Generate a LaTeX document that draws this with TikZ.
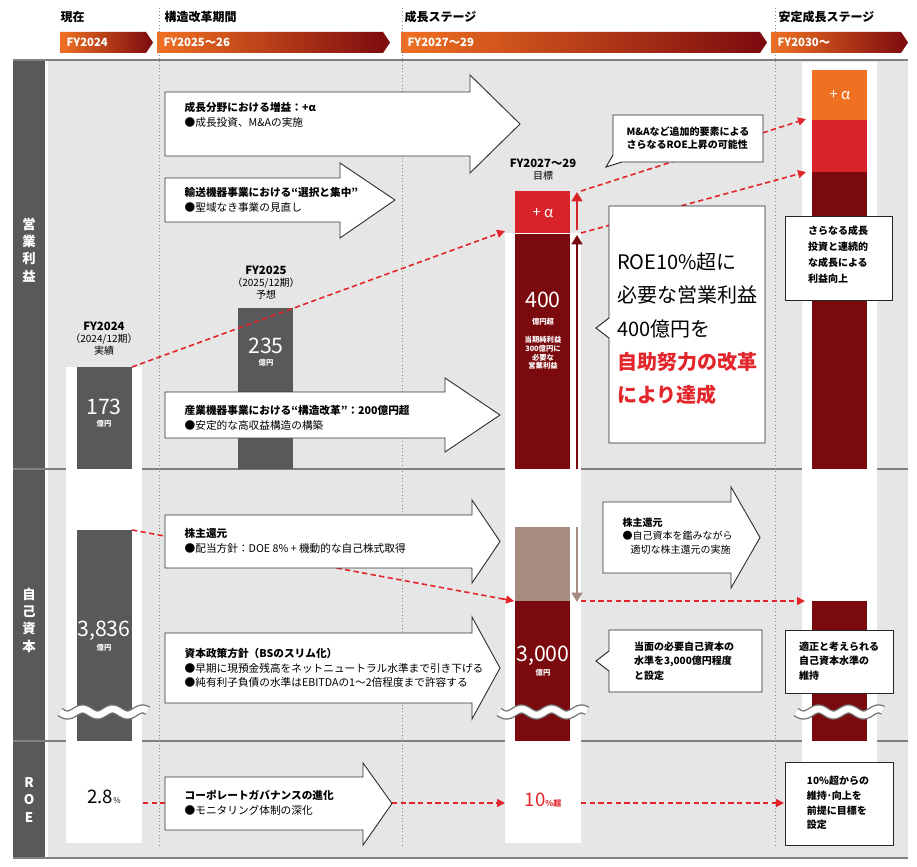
\documentclass[tikz,border=0pt]{standalone}
\usepackage{fontspec}
\setmainfont{Noto Sans CJK JP}
\usetikzlibrary{arrows.meta}
\definecolor{panelgray}{HTML}{58595B}
\definecolor{bggray}{HTML}{E6E6E7}
\definecolor{darkred}{HTML}{7B0A0E}
\definecolor{midred}{HTML}{D9232B}
\definecolor{brightred}{HTML}{EC1C2A}
\definecolor{orng}{HTML}{F07022}
\definecolor{brwn}{HTML}{A68B80}
\definecolor{dashred}{HTML}{E3262B}
\tikzset{
  bigarrow/.style={draw=black!80, fill=white, line width=0.7pt},
  note/.style={draw=black!85, fill=white, line width=0.7pt},
  reddash/.style={dashred, line width=1.2pt, dash pattern=on 4pt off 2.5pt},
  redtip/.style={reddash, -{Triangle[length=6pt,width=6pt]}},
  txt/.style={font=\fontsize{8}{11}\selectfont, align=left, anchor=west},
  bartxt/.style={text=white, font=\fontsize{16}{16}\selectfont},
  small/.style={text=white, font=\bfseries\fontsize{5.5}{6.5}\selectfont, align=center},
  head/.style={font=\bfseries\fontsize{9}{10}\selectfont, anchor=west},
  ribtxt/.style={text=white, font=\bfseries\fontsize{8.5}{10}\selectfont, anchor=west},
  sidetxt/.style={text=white, font=\bfseries\fontsize{10}{13}\selectfont, align=center},
  dots/.style={black!45, line width=0.5pt, dotted}
}
\newcommand\fatarrow[7]{% left, neck, tip, body top, body bottom, head top, head bottom
  \draw[bigarrow] (#1,#4) -- (#2,#4) -- (#2,#6) -- (#3,{(#4+#5)/2}) -- (#2,#7) -- (#2,#5) -- (#1,#5) -- cycle;}
\newcommand\wavebreak[2]{% from x to x
  \draw[black!55, line width=7pt] plot[domain=#1:#2, samples=50] (\x,{712+3*sin((\x-#1)*12)});
  \draw[white, line width=5pt] plot[domain=#1:#2, samples=50] (\x,{712+3*sin((\x-#1)*12)});}
\begin{document}
\begin{tikzpicture}[x=0.75pt,y=-0.75pt]
\useasboundingbox (0,0) rectangle (917,867);
\fill[white] (0,0) rectangle (917,867);

% header
\node[head] (h1) at (56,17) {現在};
\node[head] (h2) at (160,17) {構造改革期間};
\node[head] (h3) at (400,17) {成長ステージ};
\node[head] (h4) at (774,17) {安定成長ステージ};
\foreach \a/\b/\lab in {60/153/FY2024, 157/390/FY2025〜26, 401/767/FY2027〜29, 771/908/FY2030〜}{
  \shade[left color=orng, middle color=brightred, right color=darkred]
    (\a,32) -- ({\b-7},32) -- (\b,42.5) -- ({\b-7},53) -- (\a,53) -- cycle;
  \node[ribtxt] at ({\a+2},42.5) {\lab};
}

% panels
\fill[panelgray] (13,60) rectangle (45,858);
\fill[bggray] (48,60) rectangle (908,858);
\draw[black!50, line width=0.8pt] (13,60) -- (908,60);
\draw[black!50, line width=0.8pt] (13,469) -- (908,469);
\draw[black!50, line width=0.8pt] (13,741) -- (908,741);
\draw[black!50, line width=0.8pt] (13,858) -- (908,858);
\node[sidetxt] (s1) at (29,250) {営\\業\\利\\益};
\node[sidetxt] (s2) at (29,620) {自\\己\\資\\本};
\node[sidetxt] (s3) at (29,800) {R\\O\\E};

% white columns
\fill[white] (66,367) rectangle (142,843);
\fill[white] (505,233) rectangle (581,843);
\fill[white] (802,62) rectangle (877,843);
\foreach \x in {159,402,775}
  \draw[dots] (\x,8) -- (\x,845);

% bars
\fill[panelgray] (77,367) rectangle (132,469);
\fill[panelgray] (238,308) rectangle (293,469);
\fill[midred] (515,191) rectangle (570,233);
\fill[darkred] (515,234) rectangle (570,469);
\fill[orng] (812,70) rectangle (867,120);
\fill[midred] (812,120) rectangle (867,172);
\fill[darkred] (812,172) rectangle (867,469);
\fill[panelgray] (77,530) rectangle (132,741);
\fill[brwn] (515,527) rectangle (570,601);
\fill[darkred] (515,601) rectangle (570,741);
\fill[darkred] (812,601) rectangle (867,741);
\coordinate (b24) at (132,367);
\coordinate (b27) at (505,231);
\coordinate (b27a) at (581,233);
\coordinate (b27b) at (581,191);
\coordinate (b30a) at (806,172);
\coordinate (b30b) at (806,119);
\coordinate (e24) at (132,530);
\coordinate (e27) at (514,601);
\coordinate (e27r) at (581,601);
\coordinate (e30) at (805,601);

\draw[darkred, line width=2.2pt, -{Triangle[length=7pt,width=8pt]}] (577,469) -- (577,235);
\draw[midred, line width=2.2pt, -{Triangle[length=7pt,width=8pt]}] (577,230) -- (577,192);
\draw[brwn, line width=2.2pt, -{Triangle[length=7pt,width=8pt]}] (577,527) -- (577,602);

\wavebreak{60}{148}
\wavebreak{499}{587}
\wavebreak{796}{883}

% bar labels
\node[font=\bfseries\fontsize{8.5}{10}\selectfont, align=center] (l24) at (104,339) {FY2024\\[-1pt]{\mdseries\fontsize{7.5}{9}\selectfont（2024/12期）}\\[-1pt]{\mdseries\fontsize{7.5}{9}\selectfont 実績}};
\node[font=\bfseries\fontsize{8.5}{10}\selectfont, align=center] (l25) at (266,283) {FY2025\\[-1pt]{\mdseries\fontsize{7.5}{9}\selectfont（2025/12期）}\\[-1pt]{\mdseries\fontsize{7.5}{9}\selectfont 予想}};
\node[font=\bfseries\fontsize{8.5}{10}\selectfont, align=center] (l27) at (543,170) {FY2027〜29\\[-1pt]{\mdseries\fontsize{7.5}{9}\selectfont 目標}};
\node[bartxt] (v173) at (104,407) {173};
\node[small] at (104,424) {億円};
\node[bartxt] (v235) at (266,346) {235};
\node[small] at (266,363) {億円};
\node[bartxt] (v400) at (543,300) {400};
\node[small, anchor=north] at (543,314) {億円超\\[7pt]当期純利益\\300億円に\\必要な\\営業利益};
\node[text=white, font=\fontsize{11}{12}\selectfont] at (543,213) {+ \textit{α}};
\node[text=white, font=\fontsize{11}{12}\selectfont] at (840,95) {+ \textit{α}};
\node[bartxt] (v3836) at (104,631) {3,836};
\node[small] at (104,648) {億円};
\node[bartxt] (v3000) at (543,656) {3,000};
\node[small] at (543,673) {億円};
\node[font=\fontsize{14}{14}\selectfont] (r24) at (104,797) {2.8{\fontsize{6}{6}\selectfont\%}};
\node[text=dashred, font=\fontsize{14}{14}\selectfont] (r27) at (543,800) {10{\fontsize{6}{6}\selectfont\bfseries\%超}};

% dashed links
\draw[redtip] (b24) -- (b27);
\draw[redtip] (b27a) -- (b30a);
\draw[redtip] (b27b) -- (b30b);
\draw[reddash] (e24) -- (e27);
\draw[redtip] (e27) ++(-12,-2.3) -- (e27);
\draw[redtip] (e27r) -- (e30);
\coordinate (rr1) at (143,803);
\coordinate (rr2) at (165,803);
\coordinate (rr3) at (392,803);
\coordinate (rr4) at (505,803);
\coordinate (rr5) at (581,803);
\coordinate (rr6) at (784,803);
\draw[reddash] (rr1) -- (rr2);
\draw[redtip] (rr3) -- (rr4);
\draw[redtip] (rr5) -- (rr6);

% big arrows
\fatarrow{165}{470}{520}{92}{156}{75}{173}
\node[txt] (a1) at (180,115) {\textbf{成長分野における増益：+\textit{α}}\\●成長投資、M\&Aの実施};
\fatarrow{165}{340}{395}{178}{222}{163}{238}
\node[txt] (a2) at (180,200) {\textbf{輸送機器事業における“選択と集中”}\\●聖域なき事業の見直し};
\fatarrow{165}{445}{500}{392}{438}{378}{452}
\node[txt] (a3) at (180,418) {\textbf{産業機器事業における“構造改革”：200億円超}\\●安定的な高収益構造の構築};
\fatarrow{165}{472}{500}{515}{568}{500}{583}
\node[txt] (a4) at (180,541) {\textbf{株主還元}\\●配当方針：DOE 8\% + 機動的な自己株式取得};
\fatarrow{165}{472}{500}{633}{703}{617}{719}
\node[txt] (a5) at (180,668) {\textbf{資本政策方針（BSのスリム化）}\\●早期に現預金残高をネットニュートラル水準まで引き下げる\\●純有利子負債の水準はEBITDAの1〜2倍程度まで許容する};
\fatarrow{165}{363}{392}{777}{830}{763}{845}
\node[txt] (a6) at (180,803) {\textbf{コーポレートガバナンスの進化}\\●モニタリング体制の深化};
\fatarrow{603}{731}{760}{502}{573}{487}{588}
\node[txt, font=\fontsize{7.5}{10}\selectfont] (a7) at (618,536) {\textbf{株主還元}\\●自己資本を鑑みながら\\\hspace{0.8em}適切な株主還元の実施};

% notes
\draw[note] (613,115) -- (763,115) -- (763,162) -- (622,162) -- (606,167) -- (613,155) -- cycle;
\node[font=\bfseries\fontsize{7.5}{10}\selectfont, align=left] (n1) at (688,138) {M\&Aなど追加的要素による\\さらなるROE上昇の可能性};
\draw[note] (609,206) -- (765,206) -- (765,443) -- (609,443) -- (609,338) -- (596,328) -- (609,318) -- cycle;
\node[font=\fontsize{15}{25}\selectfont, align=left] (n2) at (687,329) {ROE10\%超に\\必要な営業利益\\400億円を\\\textcolor{dashred}{\textbf{自助努力の改革}}\\\textcolor{dashred}{\textbf{により達成}}};
\draw[note] (785,216) rectangle (892,300);
\node[font=\bfseries\fontsize{7.5}{12}\selectfont, align=left] (n3) at (838,255) {さらなる成長\\投資と連続的\\な成長による\\利益向上};
\draw[note] (609,630) -- (762,630) -- (762,692) -- (609,692) -- (609,671) -- (596,661) -- (609,651) -- cycle;
\node[font=\bfseries\fontsize{7.5}{11}\selectfont, align=left] (n4) at (684,661) {当面の必要自己資本の\\水準を3,000億円程度\\と設定};
\draw[note] (785,630) rectangle (893,693);
\node[font=\bfseries\fontsize{7.5}{11}\selectfont, align=left] (n5) at (839,661) {適正と考えられる\\自己資本水準の\\維持};
\draw[note] (785,762) rectangle (893,845);
\node[font=\bfseries\fontsize{7.5}{11}\selectfont, align=left] (n6) at (838,803) {10\%超からの\\維持･向上を\\前提に目標を\\設定};
\end{tikzpicture}
\end{document}
